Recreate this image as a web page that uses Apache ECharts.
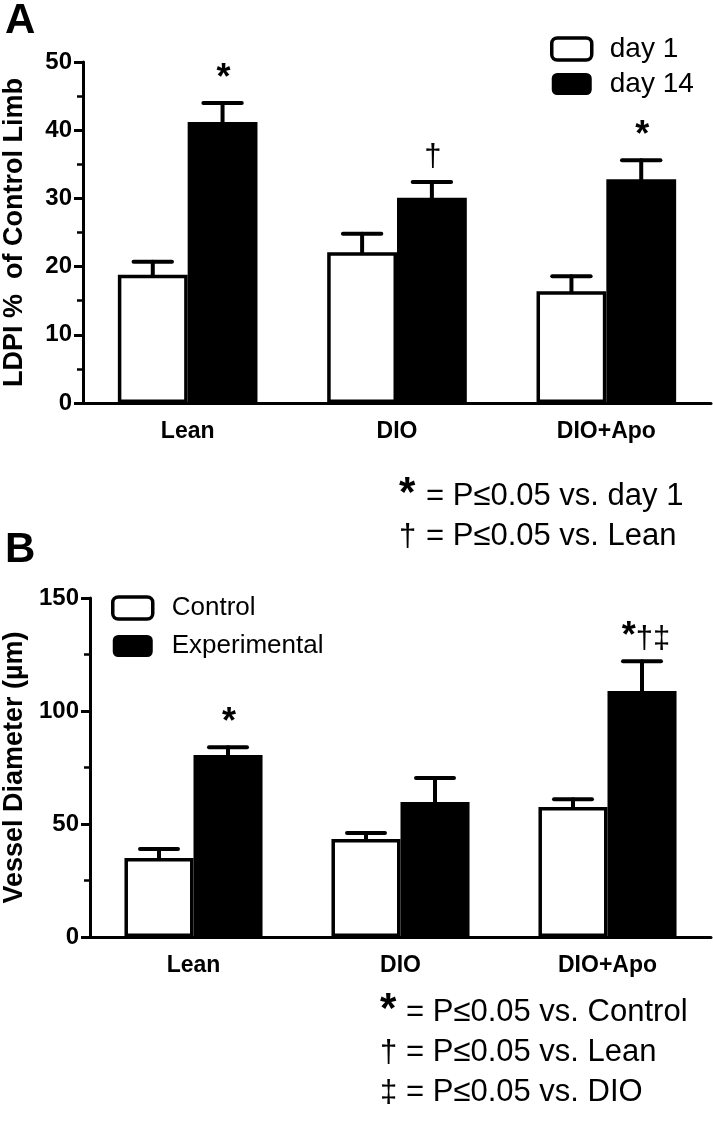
<!DOCTYPE html>
<html><head><meta charset="utf-8">
<script src="https://cdn.jsdelivr.net/npm/echarts@6/dist/echarts.min.js"></script>
<style>html,body{margin:0;padding:0;background:#fff}#c{width:713px;height:1129px}</style>
</head><body><div id="c"></div>
<script>
// ---- data ----
const categories = ['Lean', 'DIO', 'DIO+Apo'];
// Panel A: LDPI % of control limb
const aDay1 = [18.8, 22.1, 16.4];
const aDay1ErrTop = [20.7, 24.8, 18.6];
const aDay14 = [41.2, 30.1, 32.8];
const aDay14ErrTop = [44.0, 32.4, 35.6];
const aSig = ['*', '†', '*'];
const aAxis = { min: 0, max: 50, interval: 10 };
const aNoteSymbols = ['*', '†'];
const aNoteTexts = ['= P≤0.05 vs. day 1', '= P≤0.05 vs. Lean'];
// Panel B: vessel diameter (µm)
const bControl = [35.0, 43.4, 57.5];
const bControlErrTop = [38.9, 46.0, 61.0];
const bExp = [80.5, 59.7, 108.8];
const bExpErrTop = [84.0, 70.4, 122.0];
const bSig = ['*', '', '*†‡'];
const bAxis = { min: 0, max: 150, interval: 50 };
const bNoteSymbols = ['*', '†', '‡'];
const bNoteTexts = ['= P≤0.05 vs. Control', '= P≤0.05 vs. Lean', '= P≤0.05 vs. DIO'];

const FONT = 'Liberation Sans, Arial, Helvetica, sans-serif';

function sigRich(s) {
  let out = '';
  for (const ch of s) out += (ch === '*') ? '{s|*}' : '{d|' + ch + '}';
  return out;
}
const sigRichStyles = {
  s: { fontSize: 36, fontWeight: 'bold', fontFamily: FONT, fill: '#000', verticalAlign: 'bottom', lineHeight: 34 },
  d: { fontSize: 31, fontFamily: FONT, fill: '#000', verticalAlign: 'bottom', lineHeight: 34 }
};

function errSeries(gridIdx, means, tops, side, sigs) {
  return {
    type: 'custom',
    xAxisIndex: gridIdx, yAxisIndex: gridIdx,
    z: 5,
    data: means.map((m, i) => [i, m, tops[i]]),
    renderItem: function (params, api) {
      const i = api.value(0), mean = api.value(1), top = api.value(2);
      const band = api.size([1, 0])[0];
      const bw = band / 3;
      const c = api.coord([i, mean]);
      const t = api.coord([i, top]);
      const x = c[0] + side * bw / 2;
      const cap = bw * 0.55;
      const st = { stroke: '#000', lineWidth: 4, lineCap: 'round' };
      const children = [
        { type: 'line', shape: { x1: x, y1: c[1], x2: x, y2: t[1] }, style: st },
        { type: 'line', shape: { x1: x - cap / 2, y1: t[1], x2: x + cap / 2, y2: t[1] }, style: st }
      ];
      const s = sigs ? sigs[params.dataIndex] : '';
      if (s) {
        children.push({
          type: 'text',
          style: {
            x: x + (s.length > 1 ? 4 : 1), y: t[1] - (s === '†' ? 9 : 6),
            text: sigRich(s), rich: sigRichStyles,
            align: 'center', verticalAlign: 'bottom'
          }
        });
      }
      return { type: 'group', children };
    }
  };
}

function barPair(gridIdx, names, v1, v2) {
  return [
    { name: names[0], type: 'bar', xAxisIndex: gridIdx, yAxisIndex: gridIdx, data: v1,
      barGap: '0%', barCategoryGap: '33.3%',
      itemStyle: { color: '#fff', borderColor: '#000', borderWidth: 3.5 } },
    { name: names[1], type: 'bar', xAxisIndex: gridIdx, yAxisIndex: gridIdx, data: v2,
      barGap: '0%', barCategoryGap: '33.3%',
      itemStyle: { color: '#000', borderColor: '#000', borderWidth: 0 } }
  ];
}

function xAx(gridIdx) {
  return {
    type: 'category', gridIndex: gridIdx, data: categories,
    axisLine: { lineStyle: { color: '#000', width: 3 } },
    axisTick: { show: false },
    axisLabel: { color: '#000', fontWeight: 'bold', fontSize: 23, fontFamily: FONT, margin: 17 }
  };
}
function yAx(gridIdx, ax, name, gap, nameSize) {
  return {
    type: 'value', gridIndex: gridIdx, min: ax.min, max: ax.max, interval: ax.interval,
    name: name, nameLocation: 'middle', nameRotate: 90, nameGap: gap,
    nameTextStyle: { color: '#000', fontWeight: 'bold', fontSize: nameSize, fontFamily: FONT },
    splitLine: { show: false },
    axisLine: { show: true, lineStyle: { color: '#000', width: 3 } },
    axisTick: { show: true, length: 9, lineStyle: { color: '#000', width: 3 } },
    minorTick: { show: true, splitNumber: 2, length: 6, lineStyle: { color: '#000', width: 2.5 } },
    axisLabel: { color: '#000', fontWeight: 'bold', fontSize: 24, fontFamily: FONT, margin: 11 }
  };
}

// footnotes: symbol and text as separate text elements, vertically centred on the cap line
function notes(symbols, texts, symX, textX, y0, dy) {
  const out = [];
  symbols.forEach((sym, k) => {
    const y = y0 + k * dy;
    const isStar = sym === '*';
    out.push({
      type: 'text', x: symX, y: isStar ? y - 2 : y + 1,
      style: {
        text: sym, fill: '#000', fontFamily: FONT,
        fontSize: isStar ? 42 : 31, fontWeight: isStar ? 'bold' : 'normal',
        align: 'left', verticalAlign: 'middle'
      }
    });
    out.push({
      type: 'text', x: textX, y: y,
      style: {
        text: texts[k], fill: '#000', fontFamily: FONT, fontSize: 31,
        align: 'left', verticalAlign: 'middle'
      }
    });
  });
  return out;
}

const chart = echarts.init(document.getElementById('c'), null, { renderer: 'canvas' });
function legendOf(names, left, top, gap, fs, pad) {
  return {
    orient: 'vertical', icon: 'roundRect', itemWidth: 40, itemHeight: 22,
    left: left, top: top, itemGap: gap, selectedMode: false,
    textStyle: { color: '#000', fontSize: fs, fontFamily: FONT, padding: [0, 0, 0, pad] },
    data: [
      { name: names[0], itemStyle: { color: '#fff', borderColor: '#000', borderWidth: 3.5 } },
      { name: names[1], itemStyle: { color: '#000', borderColor: '#000', borderWidth: 0 } }
    ]
  };
}
chart.setOption({
  animation: false,
  backgroundColor: '#fff',
  grid: [
    { left: 83, top: 62, width: 628, height: 341, containLabel: false, outerBoundsMode: 'none' },
    { left: 90, top: 598, width: 621, height: 339, containLabel: false, outerBoundsMode: 'none' }
  ],
  xAxis: [xAx(0), xAx(1)],
  yAxis: [
    yAx(0, aAxis, 'LDPI %  of Control Limb', 55, 27),
    yAx(1, bAxis, 'Vessel Diameter (µm)', 62, 27)
  ],
  legend: [
    legendOf(['day 1', 'day 14'], 545, 30, 7, 28, 13),
    legendOf(['Control', 'Experimental'], 106, 590, 12, 26, 14)
  ],
  series: [
    ...barPair(0, ['day 1', 'day 14'], aDay1, aDay14),
    ...barPair(1, ['Control', 'Experimental'], bControl, bExp),
    errSeries(0, aDay1, aDay1ErrTop, -1, null),
    errSeries(0, aDay14, aDay14ErrTop, 1, aSig),
    errSeries(1, bControl, bControlErrTop, -1, null),
    errSeries(1, bExp, bExpErrTop, 1, bSig)
  ],
  graphic: [
    { type: 'text', left: 5, top: 0, style: { text: 'A', fontSize: 42, fontWeight: 'bold', fontFamily: FONT, fill: '#000' } },
    { type: 'text', left: 5, top: 529, style: { text: 'B', fontSize: 42, fontWeight: 'bold', fontFamily: FONT, fill: '#000' } },
    ...notes(aNoteSymbols, aNoteTexts, 399, 426, 496, 40),
    ...notes(bNoteSymbols, bNoteTexts, 380, 406, 1012, 40)
  ]
});
</script>
</body></html>
